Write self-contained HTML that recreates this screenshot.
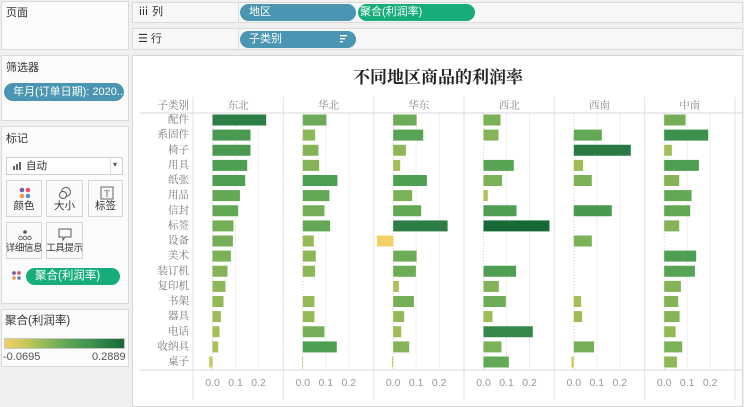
<!DOCTYPE html>
<html><head><meta charset="utf-8">
<style>
*{margin:0;padding:0;box-sizing:border-box}
body{width:744px;height:404px;overflow:hidden;background:#f0f0f0;position:relative;font-family:"Liberation Sans","Noto Sans CJK SC",sans-serif;}
.box{position:absolute;background:#fbfbfb;border:1px solid #dadada}
.t{position:absolute;font-size:11px;color:#333;white-space:nowrap;line-height:1}
.pill{position:absolute;border-radius:9px;color:#fff;font-size:11px;line-height:1;white-space:nowrap;overflow:hidden}
.btn{position:absolute;background:#fafafa;border:1px solid #d6d6d6;width:36px;height:37px}
.btn span{position:absolute;left:-4px;right:-4px;bottom:5px;text-align:center;font-size:10.5px;color:#333;line-height:1;white-space:nowrap}
.btn span.s{font-size:9.5px;letter-spacing:-0.4px}
</style></head><body>
<!-- left panel -->
<div class="box" style="left:1px;top:1px;width:128px;height:49px"></div>
<div class="t" style="left:6px;top:8px">页面</div>

<div class="box" style="left:1px;top:55px;width:128px;height:66px"></div>
<div class="t" style="left:6px;top:63px">筛选器</div>
<div class="pill" style="left:4px;top:83px;width:120px;height:18px;background:#4a96b2;padding:4px 0 0 9px">年月(订单日期): 2020..</div>

<div class="box" style="left:1px;top:126px;width:128px;height:178px"></div>
<div class="t" style="left:6px;top:134px">标记</div>
<div style="position:absolute;left:6px;top:157px;width:117px;height:18px;background:#fff;border:1px solid #cfcfcf"></div>
<div style="position:absolute;left:110px;top:158px;width:1px;height:16px;background:#ddd"></div>
<div class="t" style="left:113px;top:161px;font-size:8px;color:#555">▾</div>
<svg style="position:absolute;left:13px;top:161px" width="10" height="10"><rect x="0" y="5" width="2" height="4" fill="#666"/><rect x="3" y="3" width="2" height="6" fill="#666"/><rect x="6" y="1" width="2" height="8" fill="#666"/></svg>
<div class="t" style="left:26px;top:161px;font-size:10.5px">自动</div>

<div class="btn" style="left:6px;top:180px"><svg style="position:absolute;left:12px;top:6px" width="12" height="12"><circle cx="3" cy="3" r="2.3" fill="#7b5c9c"/><circle cx="9" cy="3" r="2.3" fill="#e0556a"/><circle cx="3" cy="9" r="2.3" fill="#f09a5a"/><circle cx="9" cy="9" r="2.3" fill="#5f8fc9"/></svg><span>颜色</span></div>
<div class="btn" style="left:46px;top:180px;width:37px"><svg style="position:absolute;left:11px;top:5px" width="14" height="14"><circle cx="8" cy="6" r="4.5" fill="none" stroke="#555"/><circle cx="5" cy="9" r="3.5" fill="#fafafa" stroke="#555"/></svg><span>大小</span></div>
<div class="btn" style="left:88px;top:180px;width:35px"><svg style="position:absolute;left:11px;top:5px" width="14" height="14"><rect x="1" y="1" width="12" height="12" fill="none" stroke="#666"/><text x="7" y="10.5" font-size="9" text-anchor="middle" fill="#555" font-family="Liberation Serif,serif">T</text></svg><span>标签</span></div>
<div class="btn" style="left:6px;top:222px"><svg style="position:absolute;left:11px;top:5px" width="14" height="14"><circle cx="7" cy="4" r="1.8" fill="#555"/><circle cx="2.5" cy="10" r="1.8" fill="none" stroke="#555" stroke-width=".8"/><circle cx="7" cy="10" r="1.8" fill="none" stroke="#555" stroke-width=".8"/><circle cx="11.5" cy="10" r="1.8" fill="none" stroke="#555" stroke-width=".8"/></svg><span class="s">详细信息</span></div>
<div class="btn" style="left:46px;top:222px;width:37px"><svg style="position:absolute;left:11px;top:5px" width="14" height="14"><path d="M1 1h12v8H7l-2 3V9H1z" fill="none" stroke="#555"/></svg><span class="s">工具提示</span></div>
<svg style="position:absolute;left:12px;top:270px" width="10" height="12"><circle cx="2" cy="3" r="1.9" fill="#7b5c9c"/><circle cx="7" cy="3" r="1.9" fill="#e0556a"/><circle cx="2" cy="8" r="1.9" fill="#f09a5a"/><circle cx="7" cy="8" r="1.9" fill="#5f8fc9"/></svg>
<div class="pill" style="left:26px;top:268px;width:94px;height:17px;background:#17ad7b;padding:3px 0 0 9px;font-size:11.5px">聚合(利润率)</div>

<div class="box" style="left:1px;top:309px;width:128px;height:58px"></div>
<div class="t" style="left:5px;top:316px;font-size:11.5px">聚合(利润率)</div>
<div style="position:absolute;left:4px;top:338px;width:121px;height:11px;border:1px solid #c8c8c8;background:linear-gradient(to right,#f2d064 0%,#c3c65c 19%,#9dbd57 30%,#72ae57 45%,#4f9f53 60%,#3b8e4c 75%,#2a7a45 87%,#176a36 100%)"></div>
<div class="t" style="left:3px;top:352px;font-size:11px;color:#555">-0.0695</div>
<div class="t" style="left:92px;top:352px;font-size:11px;color:#555">0.2889</div>

<!-- shelves -->
<div class="box" style="left:132px;top:2px;width:611px;height:21px;background:#f7f7f7"></div>
<div style="position:absolute;left:238px;top:3px;width:1px;height:19px;background:#ddd"></div>
<div class="t" style="left:138px;top:7px;font-size:11px">ⅲ 列</div>
<div class="pill" style="left:240px;top:4px;width:116px;height:17px;background:#4a96b2;padding:3px 0 0 9px">地区</div>
<div class="pill" style="left:358px;top:4px;width:117px;height:17px;background:#17ad7b;padding:3px 0 0 2px">聚合(利润率)</div>

<div class="box" style="left:132px;top:28px;width:611px;height:22px;background:#f7f7f7"></div>
<div style="position:absolute;left:238px;top:29px;width:1px;height:20px;background:#ddd"></div>
<div class="t" style="left:138px;top:34px;font-size:11px">☰ 行</div>
<div class="pill" style="left:240px;top:31px;width:116px;height:17px;background:#4a96b2;padding:3px 0 0 9px">子类别</div>
<svg style="position:absolute;left:340px;top:35px" width="8" height="8"><rect x="0" y="0" width="7" height="1.4" fill="#fff"/><rect x="0" y="3" width="5" height="1.4" fill="#fff"/><rect x="0" y="6" width="3" height="1.4" fill="#fff"/></svg>

<!-- chart -->
<div style="position:absolute;left:132px;top:55px;width:611px;height:352px;background:#fff;border:1px solid #d6d6d6"></div>
<svg style="position:absolute;left:0;top:0" width="744" height="404">
<text x="438" y="83" text-anchor="middle" font-family="'Liberation Serif','Noto Serif CJK SC',serif" font-weight="bold" font-size="17" fill="#222">不同地区商品的利润率</text>
<g stroke="#e2e2e2" stroke-width="1">
<line x1="193" y1="97" x2="193" y2="400"/><line x1="283.3" y1="97" x2="283.3" y2="400"/><line x1="373.7" y1="97" x2="373.7" y2="400"/><line x1="464" y1="97" x2="464" y2="400"/><line x1="554.3" y1="97" x2="554.3" y2="400"/><line x1="644.7" y1="97" x2="644.7" y2="400"/><line x1="735" y1="97" x2="735" y2="400"/>
</g>
<g stroke="#f0f0f0" stroke-width="1">
<line x1="235.5" y1="113" x2="235.5" y2="370"/><line x1="258.5" y1="113" x2="258.5" y2="370"/>
<line x1="325.8" y1="113" x2="325.8" y2="370"/><line x1="348.8" y1="113" x2="348.8" y2="370"/>
<line x1="416.2" y1="113" x2="416.2" y2="370"/><line x1="439.2" y1="113" x2="439.2" y2="370"/>
<line x1="506.5" y1="113" x2="506.5" y2="370"/><line x1="529.5" y1="113" x2="529.5" y2="370"/>
<line x1="596.8" y1="113" x2="596.8" y2="370"/><line x1="619.8" y1="113" x2="619.8" y2="370"/>
<line x1="687.2" y1="113" x2="687.2" y2="370"/><line x1="710.2" y1="113" x2="710.2" y2="370"/>
</g>
<g stroke="#cfcfcf" stroke-width="1" stroke-dasharray="1,2">
<line x1="212.5" y1="113" x2="212.5" y2="370"/><line x1="302.8" y1="113" x2="302.8" y2="370"/><line x1="393.2" y1="113" x2="393.2" y2="370"/><line x1="483.5" y1="113" x2="483.5" y2="370"/><line x1="573.8" y1="113" x2="573.8" y2="370"/><line x1="664.2" y1="113" x2="664.2" y2="370"/>
</g>
<line x1="140" y1="113" x2="742" y2="113" stroke="#d9d9d9"/>
<line x1="140" y1="370" x2="742" y2="370" stroke="#d9d9d9"/>

<g font-family="'Liberation Serif','Noto Serif CJK SC',serif" font-size="10.5" fill="#888" text-anchor="middle" dominant-baseline="central">
<text x="238.2" y="106">东北</text><text x="328.5" y="106">华北</text><text x="418.8" y="106">华东</text><text x="509.2" y="106">西北</text><text x="599.5" y="106">西南</text><text x="689.8" y="106">中南</text>
</g>
<g font-family="'Liberation Serif','Noto Serif CJK SC',serif" font-size="10.5" fill="#777" text-anchor="end" dominant-baseline="central">
<text x="189" y="106">子类别</text>
<text x="189" y="120">配件</text><text x="189" y="135.1">系固件</text><text x="189" y="150.3">椅子</text><text x="189" y="165.4">用具</text><text x="189" y="180.5">纸张</text><text x="189" y="195.6">用品</text><text x="189" y="210.8">信封</text><text x="189" y="225.9">标签</text><text x="189" y="241">设备</text><text x="189" y="256.1">美术</text><text x="189" y="271.3">装订机</text><text x="189" y="286.4">复印机</text><text x="189" y="301.5">书架</text><text x="189" y="316.6">器具</text><text x="189" y="331.8">电话</text><text x="189" y="346.9">收纳具</text><text x="189" y="362">桌子</text>
</g>

<!-- 东北 -->
<g transform="translate(212.5,0)">
<rect x="0" y="114.5" width="53.7" height="11" fill="#2d7d46"/>
<rect x="0" y="129.6" width="38" height="11" fill="#4a9951"/>
<rect x="0" y="144.75" width="38" height="11" fill="#4a9951"/>
<rect x="0" y="159.9" width="34.7" height="11" fill="#4f9f53"/>
<rect x="0" y="175" width="32.7" height="11" fill="#4f9f53"/>
<rect x="0" y="190.1" width="27.4" height="11" fill="#63a855"/>
<rect x="0" y="205.25" width="25.7" height="11" fill="#63a855"/>
<rect x="0" y="220.4" width="21" height="11" fill="#74af57"/>
<rect x="0" y="235.5" width="20.4" height="11" fill="#74af57"/>
<rect x="0" y="250.6" width="18.4" height="11" fill="#7bb157"/>
<rect x="0" y="265.75" width="15" height="11" fill="#84b457"/>
<rect x="0" y="280.9" width="13" height="11" fill="#8cb857"/>
<rect x="0" y="296" width="11" height="11" fill="#94ba57"/>
<rect x="0" y="311.1" width="8.4" height="11" fill="#9ebd57"/>
<rect x="0" y="326.25" width="7" height="11" fill="#a4bf58"/>
<rect x="0" y="341.4" width="5.7" height="11" fill="#a9c059"/>
<rect x="-3.3" y="356.5" width="3.3" height="11" fill="#cdc85e"/>
</g>
<!-- 华北 -->
<g transform="translate(302.8,0)">
<rect x="0" y="114.5" width="23.6" height="11" fill="#6dac57"/>
<rect x="0" y="129.6" width="12.3" height="11" fill="#8cb857"/>
<rect x="0" y="144.75" width="15.6" height="11" fill="#84b457"/>
<rect x="0" y="159.9" width="16.3" height="11" fill="#84b457"/>
<rect x="0" y="175" width="34.6" height="11" fill="#4f9f53"/>
<rect x="0" y="190.1" width="26.6" height="11" fill="#63a855"/>
<rect x="0" y="205.25" width="21.6" height="11" fill="#74af57"/>
<rect x="0" y="220.4" width="27.3" height="11" fill="#63a855"/>
<rect x="0" y="235.5" width="11" height="11" fill="#94ba57"/>
<rect x="0" y="250.6" width="13" height="11" fill="#8cb857"/>
<rect x="0" y="265.75" width="12.3" height="11" fill="#8cb857"/>
<rect x="0" y="296" width="11.6" height="11" fill="#94ba57"/>
<rect x="0" y="311.1" width="11.6" height="11" fill="#94ba57"/>
<rect x="0" y="326.25" width="21.6" height="11" fill="#74af57"/>
<rect x="0" y="341.4" width="34" height="11" fill="#4f9f53"/>
<rect x="-0.8" y="356.5" width="0.8" height="11" fill="#d2d07a"/>
</g>
<!-- 华东 -->
<g transform="translate(393.2,0)">
<rect x="0" y="114.5" width="23.4" height="11" fill="#6dac57"/>
<rect x="0" y="129.6" width="30" height="11" fill="#58a354"/>
<rect x="0" y="144.75" width="12.7" height="11" fill="#8cb857"/>
<rect x="0" y="159.9" width="7" height="11" fill="#a4bf58"/>
<rect x="0" y="175" width="33.7" height="11" fill="#4f9f53"/>
<rect x="0" y="190.1" width="19" height="11" fill="#7bb157"/>
<rect x="0" y="205.25" width="28" height="11" fill="#63a855"/>
<rect x="0" y="220.4" width="54.4" height="11" fill="#2d7d46"/>
<rect x="-16.3" y="235.5" width="16.3" height="11" fill="#f2d064"/>
<rect x="0" y="250.6" width="23.4" height="11" fill="#6dac57"/>
<rect x="0" y="265.75" width="22.7" height="11" fill="#6dac57"/>
<rect x="0" y="280.9" width="5.7" height="11" fill="#a9c059"/>
<rect x="0" y="296" width="20.7" height="11" fill="#74af57"/>
<rect x="0" y="311.1" width="11" height="11" fill="#94ba57"/>
<rect x="0" y="326.25" width="8" height="11" fill="#9ebd57"/>
<rect x="0" y="341.4" width="16" height="11" fill="#84b457"/>
<rect x="-1.3" y="356.5" width="1.3" height="11" fill="#d0cc70"/>
</g>
<!-- 西北 -->
<g transform="translate(483.5,0)">
<rect x="0" y="114.5" width="17" height="11" fill="#7bb157"/>
<rect x="0" y="129.6" width="15" height="11" fill="#84b457"/>
<rect x="0" y="159.9" width="30.3" height="11" fill="#58a354"/>
<rect x="0" y="175" width="18.6" height="11" fill="#7bb157"/>
<rect x="0" y="190.1" width="4.3" height="11" fill="#aec15a"/>
<rect x="0" y="205.25" width="33" height="11" fill="#4f9f53"/>
<rect x="0" y="220.4" width="66" height="11" fill="#176a36"/>
<rect x="0" y="265.75" width="32.6" height="11" fill="#4f9f53"/>
<rect x="0" y="280.9" width="15.3" height="11" fill="#84b457"/>
<rect x="0" y="296" width="22.3" height="11" fill="#6dac57"/>
<rect x="0" y="311.1" width="9" height="11" fill="#9ebd57"/>
<rect x="0" y="326.25" width="49.3" height="11" fill="#36884a"/>
<rect x="0" y="341.4" width="18" height="11" fill="#7bb157"/>
<rect x="0" y="356.5" width="25.3" height="11" fill="#63a855"/>
</g>
<!-- 西南 -->
<g transform="translate(573.8,0)">
<rect x="0" y="129.6" width="28" height="11" fill="#63a855"/>
<rect x="0" y="144.75" width="57" height="11" fill="#287944"/>
<rect x="0" y="159.9" width="9.3" height="11" fill="#9ebd57"/>
<rect x="0" y="175" width="18" height="11" fill="#7bb157"/>
<rect x="0" y="205.25" width="38" height="11" fill="#4a9951"/>
<rect x="0" y="235.5" width="18" height="11" fill="#7bb157"/>
<rect x="0" y="296" width="7.3" height="11" fill="#a4bf58"/>
<rect x="0" y="311.1" width="8.3" height="11" fill="#9ebd57"/>
<rect x="0" y="341.4" width="20.3" height="11" fill="#74af57"/>
<rect x="-2.3" y="356.5" width="2.3" height="11" fill="#cdc85e"/>
</g>
<!-- 中南 -->
<g transform="translate(664.2,0)">
<rect x="0" y="114.5" width="21.4" height="11" fill="#74af57"/>
<rect x="0" y="129.6" width="44" height="11" fill="#3e904d"/>
<rect x="0" y="144.75" width="7.7" height="11" fill="#a4bf58"/>
<rect x="0" y="159.9" width="34.7" height="11" fill="#4f9f53"/>
<rect x="0" y="175" width="15" height="11" fill="#84b457"/>
<rect x="0" y="190.1" width="27.4" height="11" fill="#63a855"/>
<rect x="0" y="205.25" width="26" height="11" fill="#63a855"/>
<rect x="0" y="220.4" width="15" height="11" fill="#84b457"/>
<rect x="0" y="250.6" width="32" height="11" fill="#4f9f53"/>
<rect x="0" y="265.75" width="30.7" height="11" fill="#58a354"/>
<rect x="0" y="280.9" width="16.7" height="11" fill="#84b457"/>
<rect x="0" y="296" width="14" height="11" fill="#84b457"/>
<rect x="0" y="311.1" width="15.4" height="11" fill="#84b457"/>
<rect x="0" y="326.25" width="11.4" height="11" fill="#94ba57"/>
<rect x="0" y="341.4" width="18" height="11" fill="#7bb157"/>
<rect x="0" y="356.5" width="12.7" height="11" fill="#8cb857"/>
</g>

<g font-family="'Liberation Sans',sans-serif" font-size="10.5" fill="#999" text-anchor="middle">
<text x="212.5" y="386">0.0</text><text x="235.5" y="386">0.1</text><text x="258.5" y="386">0.2</text>
<text x="302.8" y="386">0.0</text><text x="325.8" y="386">0.1</text><text x="348.8" y="386">0.2</text>
<text x="393.2" y="386">0.0</text><text x="416.2" y="386">0.1</text><text x="439.2" y="386">0.2</text>
<text x="483.5" y="386">0.0</text><text x="506.5" y="386">0.1</text><text x="529.5" y="386">0.2</text>
<text x="573.8" y="386">0.0</text><text x="596.8" y="386">0.1</text><text x="619.8" y="386">0.2</text>
<text x="664.2" y="386">0.0</text><text x="687.2" y="386">0.1</text><text x="710.2" y="386">0.2</text>
</g>
</svg>
</body></html>
